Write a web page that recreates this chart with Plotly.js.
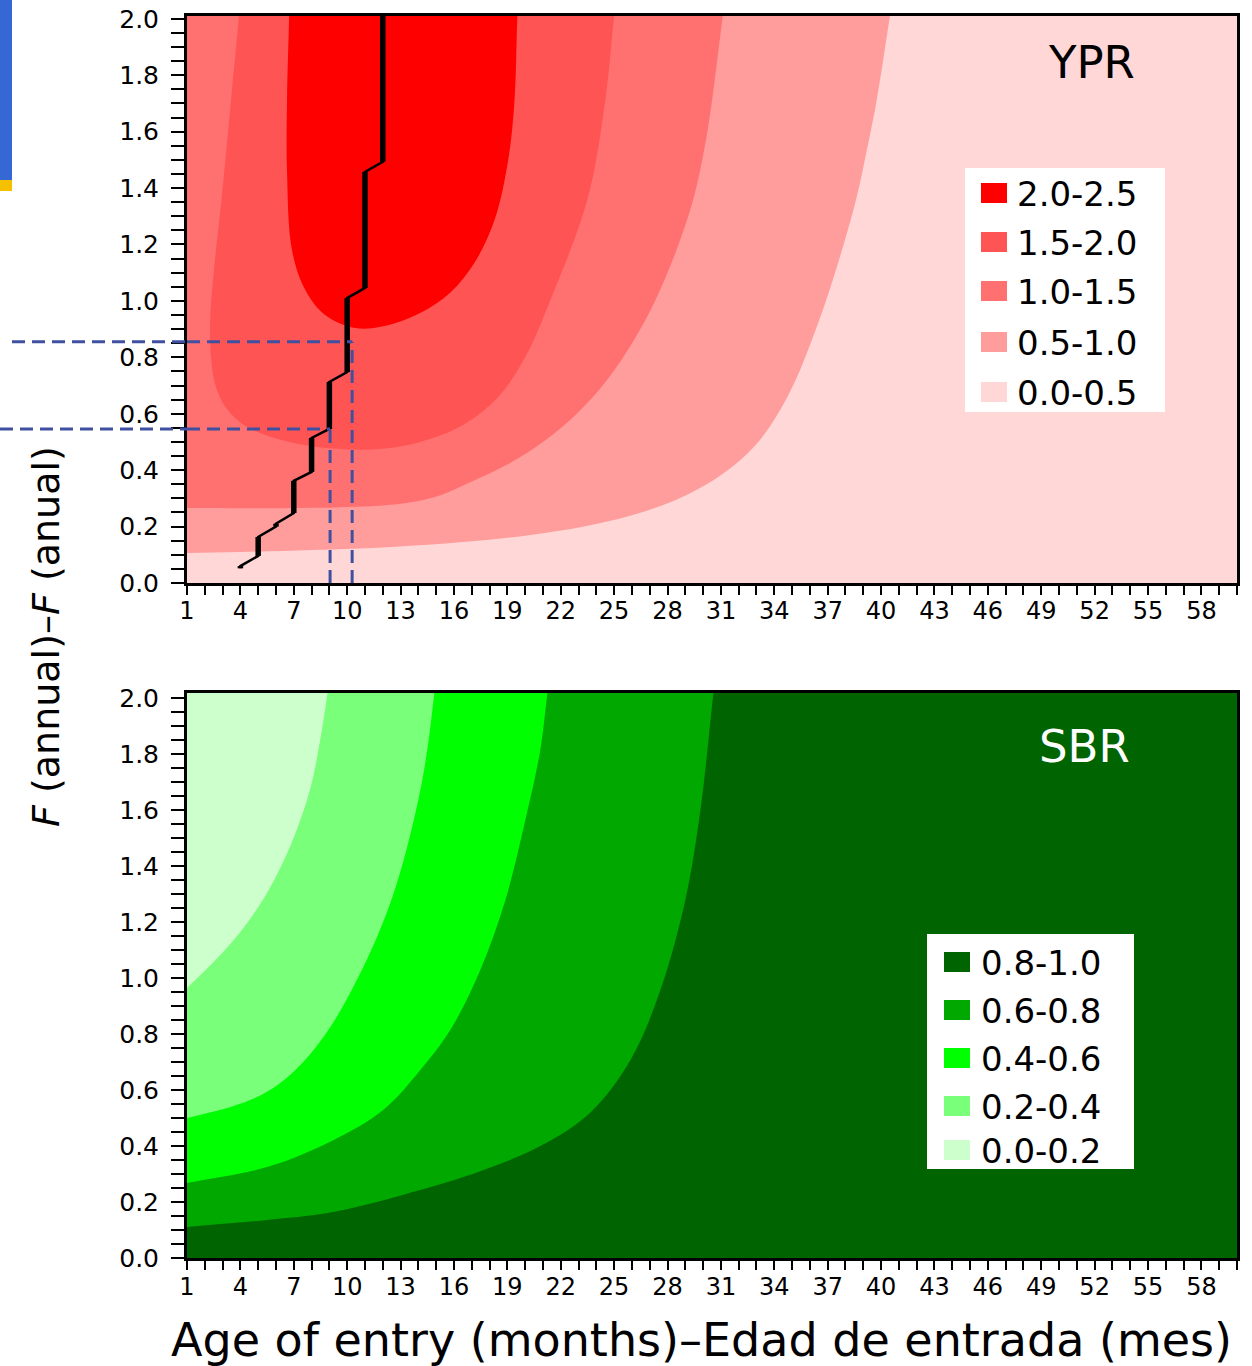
<!DOCTYPE html>
<html><head><meta charset="utf-8">
<script src="https://cdn.plot.ly/plotly-3.0.1.min.js"></script>
<style>html,body{margin:0;padding:0;background:#fff}#chart{width:1252px;height:1366px}</style>
</head><body><div id="chart"></div>
<script>
// ---------- DATA ----------
// YPR isopleths: age of entry (months) and F (annual) where each boundary runs
const yprLabels = ['2.0-2.5','1.5-2.0','1.0-1.5','0.5-1.0','0.0-0.5'];
const ypr05Age = [1, 4, 8, 12.5, 16.5, 20.3, 23.3, 26.0, 28.3, 30.2, 31.8, 33.1, 34.2, 35.2, 36.1, 36.9, 37.8, 38.6, 39.25, 39.75, 40.5];
const ypr05F   = [0.106, 0.110, 0.117, 0.128, 0.145, 0.17, 0.20, 0.24, 0.29, 0.35, 0.42, 0.50, 0.60, 0.72, 0.86, 1.0, 1.18, 1.36, 1.55, 1.71, 2.01];
const ypr10Age = [1, 7.4, 12.0, 13.5, 15.2, 17.0, 19.0, 21.0, 22.9, 24.6, 26.1, 27.3, 28.5, 29.45, 30.1, 30.5, 31.1];
const ypr10F   = [0.266, 0.266, 0.275, 0.285, 0.31, 0.36, 0.42, 0.50, 0.60, 0.72, 0.86, 1.0, 1.18, 1.36, 1.55, 1.71, 2.01];
const ypr15Age = [3.92, 3.47, 2.94, 2.5, 2.3, 2.35, 2.6, 3.2, 4.2, 5.6, 7.5, 9.8, 12.0, 14.1, 16.5, 18.5, 20.0, 21.4, 23.5, 24.5, 25.0];
const ypr15F   = [2.01, 1.71, 1.36, 1.1, 0.93, 0.8, 0.7, 0.62, 0.56, 0.52, 0.49, 0.474, 0.476, 0.50, 0.56, 0.66, 0.80, 1.0, 1.36, 1.71, 2.01];
const ypr20Age = [6.74, 6.62, 6.62, 6.9, 7.64, 8.76, 10.45, 12.1, 14.1, 15.8, 17.2, 18.3, 19.05, 19.4, 19.56];
const ypr20F   = [2.01, 1.71, 1.46, 1.18, 1.04, 0.95, 0.904, 0.911, 0.957, 1.03, 1.14, 1.29, 1.5, 1.71, 2.01];
// optimum age of entry path (eumetric line)
const pathAge = [4, 4, 5, 5, 6, 6, 7, 7, 8, 8, 9, 9, 10, 10, 11, 11, 12, 12];
const pathF   = [0.052, 0.060, 0.096, 0.163, 0.200, 0.210, 0.248, 0.362, 0.394, 0.514, 0.546, 0.713, 0.748, 1.01, 1.046, 1.457, 1.493, 2.01];
// dashed guide lines (age, F)
const guideAge = [10.28, 9.04];
const guideF   = [0.855, 0.546];

// SBR isopleths
const sbrLabels = ['0.8-1.0','0.6-0.8','0.4-0.6','0.2-0.4','0.0-0.2'];
const sbr08Age = [1, 5.5, 9.21, 14.1, 17.48, 20.85, 23.67, 25.92, 27.6, 29.0, 29.85, 30.58];
const sbr08F   = [0.111, 0.136, 0.164, 0.243, 0.31, 0.40, 0.52, 0.707, 0.957, 1.279, 1.6, 2.018];
const sbr06Age = [1, 5.5, 9.21, 12.02, 14.1, 15.79, 17.48, 18.89, 20.01, 20.85, 21.25];
const sbr06F   = [0.268, 0.325, 0.421, 0.529, 0.671, 0.814, 1.029, 1.279, 1.564, 1.814, 2.018];
const sbr04Age = [1, 3.5, 5.4, 6.9, 8.2, 9.4, 10.6, 11.7, 12.7, 13.5, 14.2, 14.6, 14.9];
const sbr04F   = [0.5, 0.54, 0.59, 0.66, 0.75, 0.86, 1.0, 1.15, 1.32, 1.5, 1.7, 1.86, 2.018];
const sbr02Age = [1, 2.6, 3.95, 5.15, 6.1, 7.1, 7.95, 8.55, 8.9];
const sbr02F   = [0.964, 1.064, 1.161, 1.268, 1.375, 1.518, 1.682, 1.875, 2.018];

// ---------- STYLE ----------
const yprColors = ['#ff0000','#ff5454','#ff7070','#ff9c9c','#ffd7d7'];
const sbrColors = ['#006400','#00a800','#00ff00','#7aff7a','#ccffcc'];
const FONT = 'DejaVu Sans, Liberation Sans, Arial, sans-serif';
const PL=187, PR=1237, PT=16, PB=1258;
const px = v => (v-PL)/(PR-PL);
const py = v => (PB-v)/(PB-PT);
const ageMin = 1, ageMax = 60, yprTop = 2.01, sbrTop = 2.018;

// filled region bounded by an isopleth; the path is continued (along its own
// direction) outside the visible frame so that the closing edges stay hidden
function fillTrace(ax, ay, color, xa, ya, top){
  const x = ax.slice(), y = ay.slice(), n = ax.length;
  const ext = top + 0.4, left = ageMin - 3;
  let startOut, endOut;
  if (ay[0] >= top - 1e-9) {
    const k = (ax[0]-ax[1])/(ay[0]-ay[1]);
    startOut = [ax[0] + k*(ext-ay[0]), ext];
  } else {
    const s = (ay[1]-ay[0])/(ax[1]-ax[0]);
    startOut = [left, ay[0] + s*(left-ax[0])];
  }
  if (ay[n-1] >= top - 1e-9) {
    const k = (ax[n-1]-ax[n-2])/(ay[n-1]-ay[n-2]);
    endOut = [ax[n-1] + k*(ext-ay[n-1]), ext];
  } else {
    const s = (ay[n-1]-ay[n-2])/(ax[n-1]-ax[n-2]);
    endOut = [left, ay[n-1] + s*(left-ax[n-1])];
  }
  x.unshift(startOut[0]); y.unshift(startOut[1]);
  x.push(endOut[0]); y.push(endOut[1]);
  if (startOut[0] === left || endOut[0] === left) { x.push(left - 1); y.push(ext + 0.2); }
  return {type:'scatter', mode:'lines', x:x, y:y, fill:'toself', fillcolor:color,
          line:{width:0, color:color, shape:'spline', smoothing:1}, hoverinfo:'skip', showlegend:false, xaxis:xa, yaxis:ya};
}

const traces = [
  fillTrace(ypr05Age, ypr05F, yprColors[3], 'x', 'y', yprTop),
  fillTrace(ypr10Age, ypr10F, yprColors[2], 'x', 'y', yprTop),
  fillTrace(ypr15Age, ypr15F, yprColors[1], 'x', 'y', yprTop),
  fillTrace(ypr20Age, ypr20F, yprColors[0], 'x', 'y', yprTop),
  fillTrace(sbr08Age, sbr08F, sbrColors[1], 'x2', 'y2', sbrTop),
  fillTrace(sbr06Age, sbr06F, sbrColors[2], 'x2', 'y2', sbrTop),
  fillTrace(sbr04Age, sbr04F, sbrColors[3], 'x2', 'y2', sbrTop),
  fillTrace(sbr02Age, sbr02F, sbrColors[4], 'x2', 'y2', sbrTop)
];
// eumetric path: thin connecting line plus thick vertical steps
traces.push({type:'scatter', mode:'lines', x:pathAge, y:pathF, line:{color:'#000', width:2.5},
  hoverinfo:'skip', showlegend:false, xaxis:'x', yaxis:'y'});
const vx = [], vy = [];
for (let i=0;i<pathAge.length-1;i++){
  if (pathAge[i]===pathAge[i+1]){ vx.push(pathAge[i], pathAge[i+1], null); vy.push(pathF[i], pathF[i+1], null); }
}
traces.push({type:'scatter', mode:'lines', x:vx, y:vy, line:{color:'#000', width:5.5},
  hoverinfo:'skip', showlegend:false, xaxis:'x', yaxis:'y'});

const shapes = [], annotations = [];
shapes.push({type:'rect', xref:'x domain', yref:'y domain', x0:0, x1:1, y0:0, y1:1, fillcolor:yprColors[4], line:{width:0}, layer:'below'});
shapes.push({type:'rect', xref:'x2 domain', yref:'y2 domain', x0:0, x1:1, y0:0, y1:1, fillcolor:sbrColors[0], line:{width:0}, layer:'below'});

const dashStyle = {color:'#4050a0', width:3, dash:'13px,7px'};
const guideStart = [px(12), px(0)];
guideAge.forEach((a,i)=>{
  shapes.push({type:'line', xref:'paper', yref:'y', x0:guideStart[i], x1:0, y0:guideF[i], y1:guideF[i], line:dashStyle});
  shapes.push({type:'line', xref:'x', yref:'y', x0:ageMin, x1:a, y0:guideF[i], y1:guideF[i], line:dashStyle});
  shapes.push({type:'line', xref:'x', yref:'y', x0:a, x1:a, y0:0, y1:guideF[i], line:dashStyle});
});

// slide fragment at top-left
shapes.push({type:'rect', xref:'paper', yref:'paper', x0:px(0), x1:px(12), y0:py(180), y1:py(0), fillcolor:'#3568d4', line:{width:0}});
shapes.push({type:'rect', xref:'paper', yref:'paper', x0:px(0), x1:px(12), y0:py(191), y1:py(180), fillcolor:'#f5c000', line:{width:0}});

function addLegend(box, sw, rows, textX, labels, colors, fs){
  shapes.push({type:'rect', xref:'paper', yref:'paper', x0:px(box[0]), x1:px(box[1]), y0:py(box[3]), y1:py(box[2]), fillcolor:'#ffffff', line:{width:0}});
  labels.forEach((lab,i)=>{
    shapes.push({type:'rect', xref:'paper', yref:'paper', x0:px(sw[0]), x1:px(sw[1]), y0:py(rows[i]+10), y1:py(rows[i]-10), fillcolor:colors[i], line:{width:0}});
    annotations.push({xref:'paper', yref:'paper', x:px(textX), y:py(rows[i]+1), xanchor:'left', yanchor:'middle', text:lab, showarrow:false, font:{family:FONT, size:fs, color:'#000'}});
  });
}
addLegend([965,1165,168,412],[981,1007],[193,242,291,342,392],1015,yprLabels,yprColors,34);
addLegend([927,1134,934,1169],[944,970],[962,1010,1058,1106,1150],979,sbrLabels,sbrColors,34);

annotations.push({xref:'paper', yref:'paper', x:px(1091), y:py(62), text:'YPR', showarrow:false, xanchor:'center', yanchor:'middle', font:{family:FONT, size:45, color:'#000'}});
annotations.push({xref:'paper', yref:'paper', x:px(1084), y:py(747), text:'SBR', showarrow:false, xanchor:'center', yanchor:'middle', font:{family:FONT, size:45, color:'#ffffff'}});
annotations.push({xref:'paper', yref:'paper', x:px(46), y:py(637), text:'<i>F</i> (annual)–<i>F</i> (anual)', textangle:-90, showarrow:false, xanchor:'center', yanchor:'middle', font:{family:FONT, size:38, color:'#000'}});
annotations.push({xref:'paper', yref:'paper', x:px(701), y:py(1340), text:'Age of entry (months)–Edad de entrada (mes)', showarrow:false, xanchor:'center', yanchor:'middle', font:{family:FONT, size:46, color:'#000'}});

function xAxis(anchor, so){
  return {anchor:anchor, domain:[0,1], range:[ageMin, ageMax], tick0:1, dtick:3, ticks:'outside', ticklen:9, tickwidth:2, tickcolor:'#000',
    minor:{dtick:1, ticks:'outside', ticklen:9, tickwidth:2, tickcolor:'#000', showgrid:false},
    showline:true, linewidth:3, linecolor:'#000', mirror:true, showgrid:false, zeroline:false,
    tickfont:{family:FONT, size:24, color:'#000'}, ticklabelstandoff:so, fixedrange:true};
}
function yAxis(anchor, dom, top){
  return {anchor:anchor, domain:dom, range:[0, top], tick0:0, dtick:0.2, tickformat:'.1f', ticks:'outside', ticklen:13, tickwidth:2, tickcolor:'#000',
    minor:{dtick:0.05, ticks:'outside', ticklen:13, tickwidth:2, tickcolor:'#000', showgrid:false},
    showline:true, linewidth:3, linecolor:'#000', mirror:true, showgrid:false, zeroline:false,
    tickfont:{family:FONT, size:25, color:'#000'}, ticklabelstandoff:7, fixedrange:true};
}

const layout = {
  width:1252, height:1366,
  margin:{l:PL, r:1252-PR, t:PT, b:1366-PB, pad:0},
  paper_bgcolor:'#ffffff', plot_bgcolor:'#ffffff',
  showlegend:false,
  font:{family:FONT, color:'#000'},
  xaxis:xAxis('y', -5), yaxis:yAxis('x', [py(583), 1], yprTop),
  xaxis2:xAxis('y2', -4), yaxis2:yAxis('x2', [0, py(693)], sbrTop),
  shapes:shapes, annotations:annotations
};
Plotly.newPlot('chart', traces, layout, {staticPlot:true, displayModeBar:false});
</script></body></html>
